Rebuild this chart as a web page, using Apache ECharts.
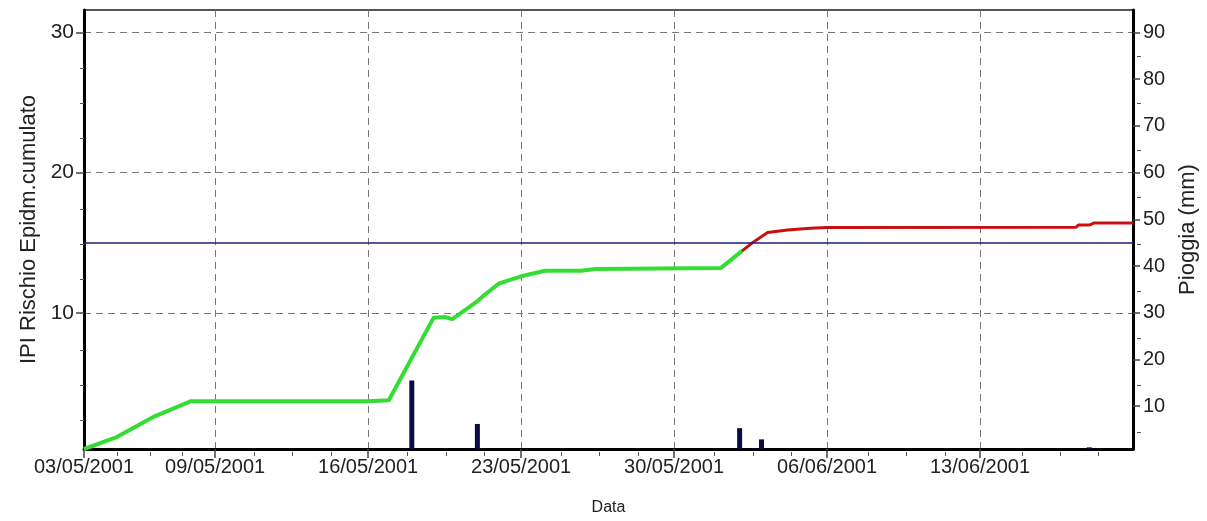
<!DOCTYPE html>
<html>
<head>
<meta charset="utf-8">
<title>IPI Rischio Epidm. cumulato</title>
<script src="https://cdn.jsdelivr.net/npm/echarts@6/dist/echarts.min.js"></script>
<style>
    html, body {margin: 0; padding: 0; background: #fff;}
    #chart {width: 1207px; height: 521px;}
</style>
</head>
<body>
<div id="chart"></div>
<script>
/***
 * dati: x = giorni dal 03/05/2001
 */
var xTickDays = [0, 6, 13, 20, 27, 34, 41];
var xTickLabels = ['03/05/2001', '09/05/2001', '16/05/2001', '23/05/2001', '30/05/2001', '06/06/2001', '13/06/2001'];
var xMinorDays = [1.5, 3, 4.5, 7.75, 9.5, 11.25, 14.75, 16.5, 18.25, 21.75, 23.5, 25.25,
    28.75, 30.5, 32.25, 35.75, 37.5, 39.25, 42.75, 44.5, 46.25];
var ipiTicks = [10, 20, 30];
var ipiMinorTicks = [2.5, 5, 7.5, 12.5, 15, 17.5, 22.5, 25, 27.5];
var pioggiaTicks = [10, 20, 30, 40, 50, 60, 70, 80, 90];
var pioggiaMinorTicks = [5, 15, 25, 35, 45, 55, 65, 75, 85];

// IPI cumulato sotto soglia (verde)
var ipiSotto = [[0, 0.28], [1.5, 1.13], [3.15, 2.55], [4.9, 3.69], [13.0, 3.69], [13.95, 3.76],
    [16.0, 9.65], [16.5, 9.7], [16.85, 9.55], [17.9, 10.7], [18.35, 11.3], [19.0, 12.1],
    [20.0, 12.6], [21.1, 13.0], [22.75, 13.0], [23.4, 13.12], [29.15, 13.2], [30.1, 14.4]];
// IPI cumulato oltre soglia (rosso)
var ipiSopra = [[30.1, 14.4], [30.67, 15.09], [31.28, 15.72], [32.19, 15.9], [33.24, 16.03],
    [34.0, 16.08], [45.4, 16.1], [45.5, 16.26], [46.0, 16.26], [46.2, 16.4], [48, 16.4]];
var soglia = 15;
// pioggia giornaliera (mm)
var pioggiaGiorni = [15, 18, 30, 31, 46];
var pioggiaMm = [15.5, 6.2, 5.3, 2.9, 1.2];

var font = 'Liberation Sans, Arial, sans-serif';
var pioggia = [];
pioggiaGiorni.forEach(function (g, i) {
    pioggia.push([g, pioggiaMm[i]]);
});

function tickLabel(v) {
    var i = xTickDays.indexOf(v);
    return i >= 0 ? xTickLabels[i] : '';
}

// assi solo per le tacche secondarie (secondo grid sovrapposto)
function minorAxis(grid, pos, min, max, ticks) {
    return {
        type: 'value', gridIndex: grid, position: pos, min: min, max: max,
        axisLine: {show: false},
        axisTick: {customValues: ticks, length: 4, lineStyle: {color: '#555', width: 1}},
        axisLabel: {show: false},
        splitLine: {show: false}
    };
}

var gridBox = {left: 84, right: 70, top: 10, bottom: 69};
var myChart = echarts.init(document.getElementById('chart'));
var option = {
    animation: false,
    backgroundColor: '#fff',
    grid: [
        echarts.util.extend({show: true, borderColor: '#555', borderWidth: 2}, gridBox),
        echarts.util.extend({show: false}, gridBox)
    ],
    xAxis: [
        {
            type: 'value', gridIndex: 0, min: 0, max: 48, position: 'bottom',
            name: 'Data', nameLocation: 'middle', nameGap: 51,
            nameTextStyle: {fontFamily: font, fontSize: 16, color: '#222'},
            axisLine: {lineStyle: {color: '#000', width: 3}},
            axisTick: {customValues: xTickDays, length: 9, lineStyle: {color: '#444', width: 1.5}},
            axisLabel: {customValues: xTickDays, formatter: tickLabel, margin: 8,
                fontFamily: font, fontSize: 20, color: '#222'},
            splitLine: {show: true, lineStyle: {color: '#777', type: [7, 5], width: 1}}
        },
        minorAxis(1, 'bottom', 0, 48, xMinorDays)
    ],
    yAxis: [
        {
            type: 'value', gridIndex: 0, min: 0.28, max: 31.6, position: 'left',
            name: 'IPI Rischio Epidm.cumulato', nameLocation: 'middle', nameGap: 42,
            nameTextStyle: {fontFamily: font, fontSize: 22, color: '#222'},
            axisLine: {show: true, lineStyle: {color: '#000', width: 3}},
            axisTick: {customValues: ipiTicks, length: 8, lineStyle: {color: '#444', width: 1.5}},
            axisLabel: {customValues: ipiTicks, margin: 10, fontFamily: font, fontSize: 21, color: '#222'},
            splitLine: {show: true, lineStyle: {color: '#777', type: [7, 5], width: 1}}
        },
        {
            type: 'value', gridIndex: 0, min: 0.84, max: 94.8, position: 'right',
            name: 'Pioggia (mm)', nameLocation: 'middle', nameGap: 44,
            nameTextStyle: {fontFamily: font, fontSize: 22, color: '#222'},
            axisLine: {show: true, lineStyle: {color: '#000', width: 3}},
            axisTick: {customValues: pioggiaTicks, length: 7, lineStyle: {color: '#444', width: 1.5}},
            axisLabel: {customValues: pioggiaTicks, margin: 10, fontFamily: font, fontSize: 20, color: '#222'},
            splitLine: {show: false}
        },
        minorAxis(1, 'left', 0.28, 31.6, ipiMinorTicks),
        minorAxis(1, 'right', 0.84, 94.8, pioggiaMinorTicks)
    ],
    series: [
        {
            name: 'Pioggia', type: 'bar', xAxisIndex: 0, yAxisIndex: 1,
            barWidth: 5, itemStyle: {color: '#0c0c45'},
            data: pioggia
        },
        {
            name: 'IPI', type: 'line', xAxisIndex: 0, yAxisIndex: 0,
            showSymbol: false, lineStyle: {color: '#33dd33', width: 4},
            data: ipiSotto,
            markLine: {
                silent: true, symbol: 'none', label: {show: false},
                lineStyle: {color: '#1c1c7a', width: 1.5, type: 'solid'},
                data: [{yAxis: soglia}]
            }
        },
        {
            name: 'IPI oltre soglia', type: 'line', xAxisIndex: 0, yAxisIndex: 0,
            showSymbol: false, lineStyle: {color: '#c81010', width: 3},
            data: ipiSopra
        }
    ]
};
myChart.setOption(option);
</script>
</body>
</html>
